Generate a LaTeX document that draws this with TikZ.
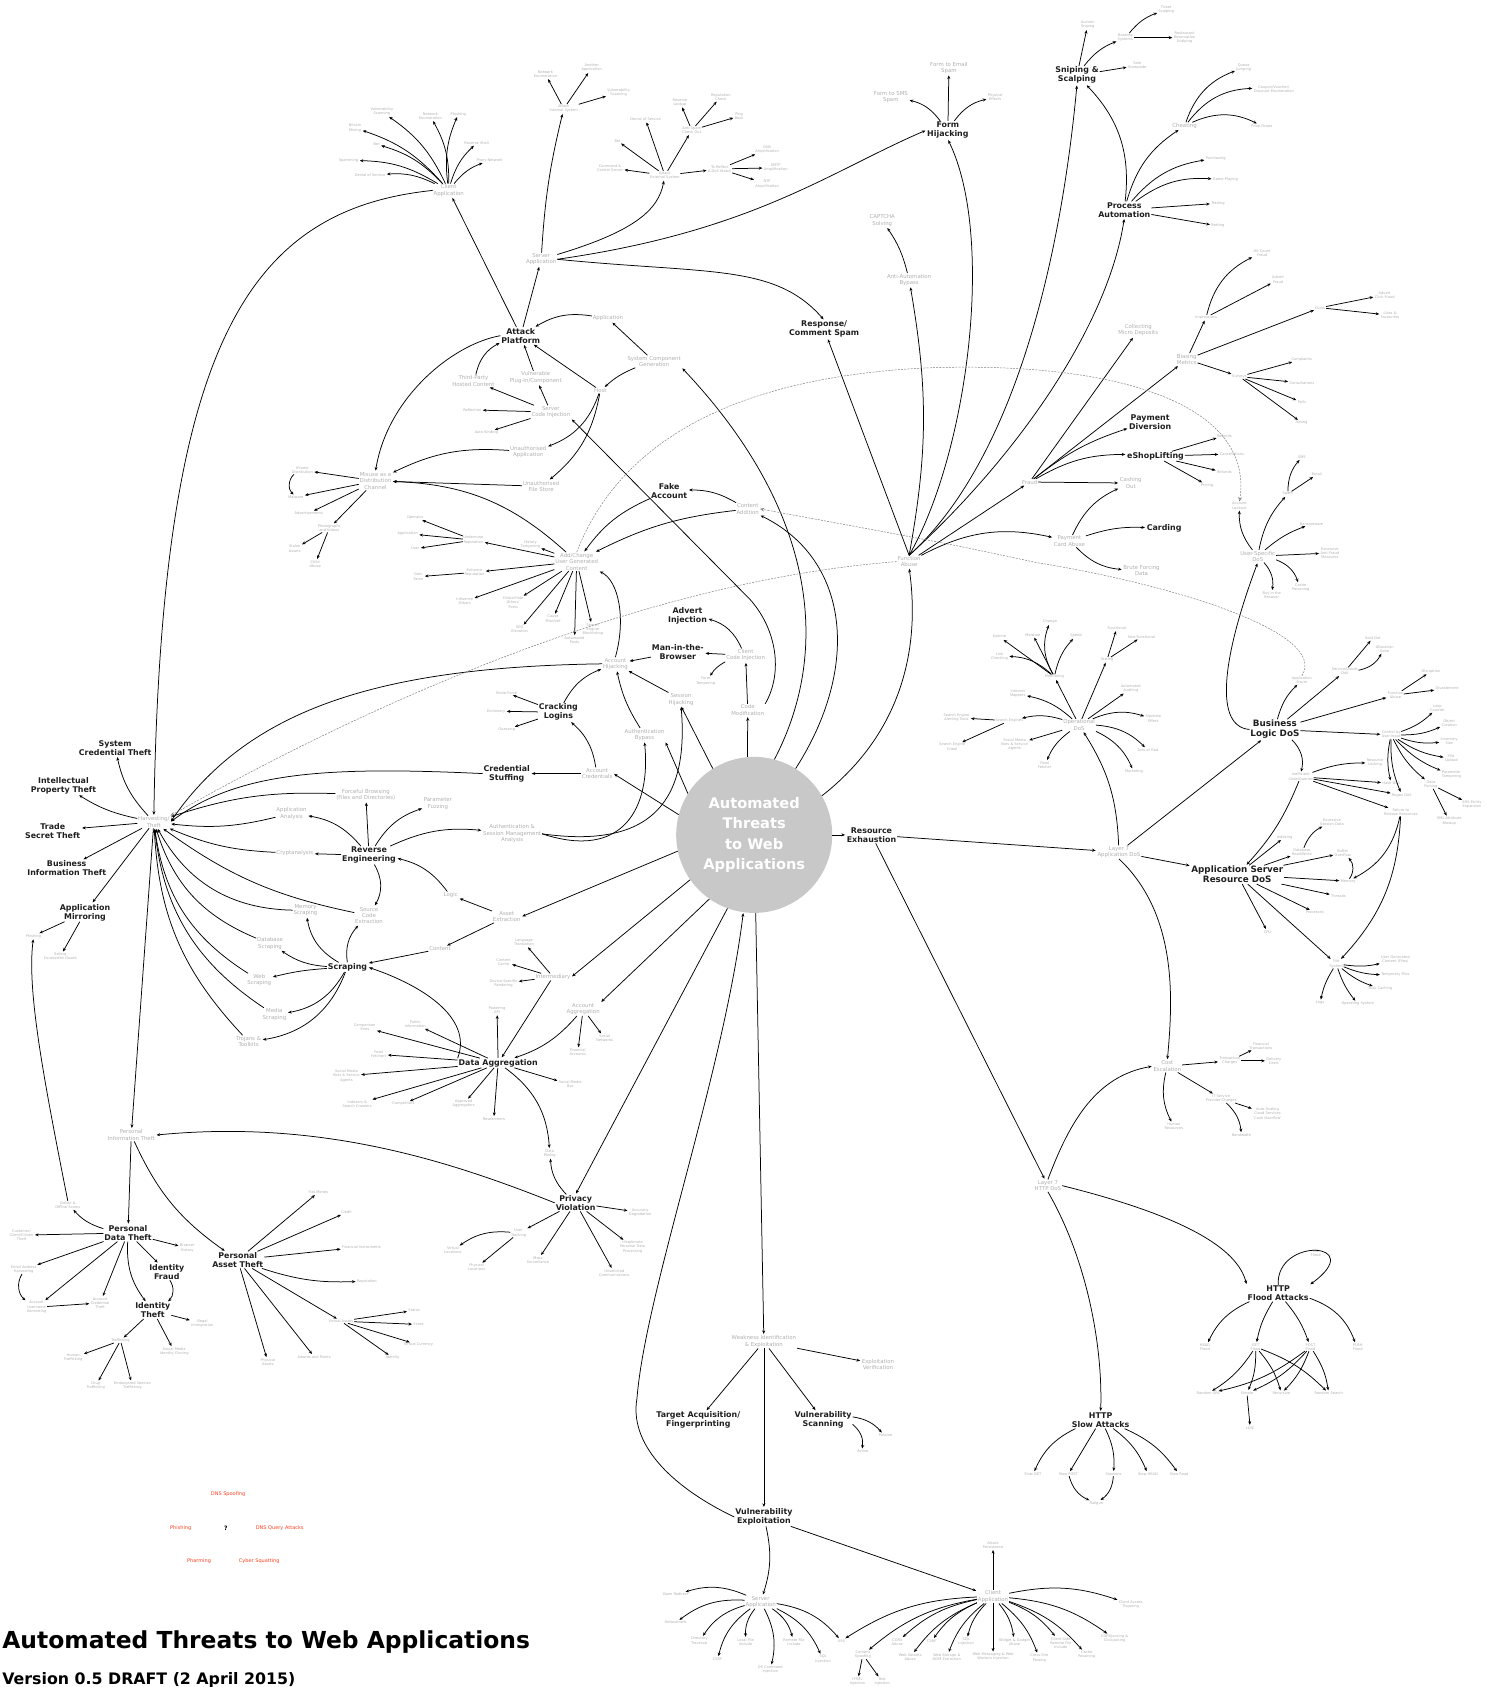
\documentclass[tikz,border=0pt]{standalone}
\usepackage{fontspec}
\setmainfont{DejaVu Sans}
\usetikzlibrary{arrows.meta}
\definecolor{lgray}{RGB}{175,175,175}
\definecolor{hubgray}{RGB}{200,200,200}
\definecolor{tagred}{RGB}{255,64,32}
\tikzset{
  leafnode/.style={text=lgray,font=\fontsize{3.6}{4.2}\selectfont,align=center,inner sep=0.5pt},
  midnode/.style={text=lgray,font=\fontsize{5.4}{6.4}\selectfont,align=center,inner sep=0.8pt},
  threatnode/.style={text=black!88,font=\bfseries\fontsize{7.9}{9}\selectfont,align=center,inner sep=0.8pt},
  majornode/.style={threatnode,font=\bfseries\fontsize{8.8}{10}\selectfont},
  hubnode/.style={circle,fill=hubgray,text=white,font=\bfseries\fontsize{14.6}{20.5}\selectfont,align=center,minimum size=156pt,inner sep=0pt},
  redtag/.style={text=tagred,font=\fontsize{5}{6}\selectfont,inner sep=0.5pt},
  link/.style={-{Stealth[length=3.6pt,width=3pt]},line width=0.75pt,shorten >=0.8pt},
  dashlink/.style={-{Stealth[length=4.4pt,width=3.8pt,open]},draw=gray,dash pattern=on 2pt off 1.2pt,line width=0.5pt}
}
\begin{document}
\begin{tikzpicture}[x=1.0756pt,y=-1.0756pt]
\useasboundingbox (0,0) rectangle (1388,1568);

\node[hubnode] (core) at (701,776) {Automated\\Threats\\to Web\\Applications};
\node[anchor=west,font=\bfseries\fontsize{23.4}{27}\selectfont,inner sep=0pt] (title) at (2,1526) {Automated Threats to Web Applications};
\node[anchor=west,font=\bfseries\fontsize{15.8}{18}\selectfont,inner sep=0pt] (version) at (2,1562) {Version 0.5 DRAFT (2 April 2015)};

\node[midnode] (ca) at (417,177) {Client\\Application};
\node[leafnode] (caVuln) at (355,104) {Vulnerability\\Scanning};
\node[leafnode] (caNet) at (400,108) {Network\\Enumeration};
\node[leafnode] (caPhish) at (426,106) {Phishing};
\node[leafnode] (caBtc) at (330,119) {Bitcoin\\Mining};
\node[leafnode] (caBot) at (350,134) {Bot};
\node[leafnode] (caShell) at (443,133) {Reverse Shell};
\node[leafnode] (caSpam) at (324,149) {Spamming};
\node[leafnode] (caProxy) at (455,149) {Proxy Network};
\node[leafnode] (caDos) at (344,163) {Denial of Service};

\node[midnode] (sa) at (503,241) {Server\\Application};
\node[leafnode] (ais) at (524,101) {Attack\\Internal System};
\node[leafnode] (aisNet) at (507,69) {Network\\Enumeration};
\node[leafnode] (aisApp) at (550,63) {Another\\Application};
\node[leafnode] (aisVuln) at (575,86) {Vulnerability\\Scanning};
\node[leafnode] (aes) at (618,163) {Attack\\External System};
\node[leafnode] (aesDos) at (600,111) {Denial of Service};
\node[leafnode] (aesBot) at (574,131) {Bot};
\node[leafnode] (aesCc) at (567,156) {Command \&\\Control Server};
\node[leafnode] (spam) at (643,121) {Anti-Spam\\Check Out};
\node[leafnode] (spamRev) at (632,95) {Reverse\\Lookup};
\node[leafnode] (spamRep) at (670,90) {Reputation\\Check};
\node[leafnode] (spamPing) at (687,108) {Ping\\Back};
\node[leafnode] (refl) at (669,157) {To Reflect\\A DoS Attack};
\node[leafnode] (reflDns) at (713,139) {DNS\\Amplification};
\node[leafnode] (reflSmtp) at (721,156) {SMTP\\Amplification};
\node[leafnode] (reflNtp) at (713,171) {NTP\\Amplification};

\node[threatnode] (ap) at (484,312) {Attack\\Platform};
\node[midnode] (apApp) at (565,296) {Application};
\node[midnode] (scg) at (608,336) {System Component\\Generation};
\node[midnode] (host) at (558,363) {Host};
\node[midnode] (tphc) at (440,354) {Third-Party\\Hosted Content};
\node[midnode] (vpc) at (498,351) {Vulnerable\\Plug-In/Component};
\node[midnode] (sci) at (512,383) {Server\\Code Injection};
\node[leafnode] (refn) at (439,381) {Reflection};
\node[leafnode] (abind) at (452,402) {Auto Binding};
\node[midnode] (ua) at (491,420) {Unauthorised\\Application};
\node[midnode] (ufs) at (503,452) {Unauthorised\\File Store};
\node[midnode] (misuse) at (349,447) {Misuse as a\\Distribution\\Channel};
\node[leafnode] (mIframe) at (281,437) {IFrame\\Distribution};
\node[leafnode] (mMal) at (275,462) {Malware};
\node[leafnode] (mAdv) at (287,477) {Advertisements};
\node[leafnode] (mPhoto) at (306,491) {Photographs\\and Videos};
\node[leafnode] (mStolen) at (274,510) {Stolen\\Assets};
\node[leafnode] (mChild) at (293,524) {Child\\Abuse};

\node[midnode] (ugc) at (536,522) {Add/Change\\User Generated\\Content};
\node[leafnode] (uRep) at (440,502) {Undermine\\Reputation};
\node[leafnode] (uOp) at (386,481) {Operator};
\node[leafnode] (uApp) at (379,496) {Application};
\node[leafnode] (uUser) at (386,510) {User};
\node[leafnode] (uHist) at (493,506) {History\\Tampering};
\node[leafnode] (uEnh) at (441,532) {Enhance\\Reputation};
\node[leafnode] (uFame) at (389,536) {Gain\\Fame};
\node[leafnode] (uInfl) at (432,559) {Influence\\Others};
\node[leafnode] (uDil) at (477,560) {Dilute/Hide\\Others'\\Posts};
\node[leafnode] (uMis) at (514,575) {Cause\\Mischief};
\node[leafnode] (uSeo) at (483,585) {SEO\\Elevation};
\node[leafnode] (uAuto) at (534,595) {Automated\\Posts};
\node[leafnode] (uSeb) at (551,585) {Search\\Engine\\Blacklisting};
\node[threatnode] (fake) at (622,456) {Fake\\Account};
\node[midnode] (cadd) at (695,473) {Content\\Addition};

\node[midnode] (ah) at (572,617) {Account\\Hijacking};
\node[threatnode] (advinj) at (639,572) {Advert\\Injection};
\node[threatnode] (mitb) at (630,606) {Man-in-the-\\Browser};
\node[midnode] (cci) at (693,609) {Client\\Code Injection};
\node[leafnode] (ftamp) at (656,633) {Form\\Tampering};
\node[midnode] (sh) at (633,650) {Session\\Hijacking};
\node[midnode] (cmod) at (695,660) {Code\\Modification};
\node[threatnode] (crack) at (519,662) {Cracking\\Logins};
\node[leafnode] (cBrute) at (471,644) {Brute-Force};
\node[leafnode] (cDict) at (461,661) {Dictionary};
\node[leafnode] (cGuess) at (471,678) {Guessing};
\node[midnode] (abyp) at (599,683) {Authentication\\Bypass};
\node[threatnode] (cstuff) at (471,719) {Credential\\Stuffing};
\node[midnode] (acred) at (555,719) {Account\\Credentials};

\node[threatnode] (re) at (343,795) {Reverse\\Engineering};
\node[midnode] (rForce) at (340,739) {Forceful Browsing\\(Files and Directories)};
\node[midnode] (rFuzz) at (407,747) {Parameter\\Fuzzing};
\node[midnode] (rAuth) at (476,775) {Authentication \&\\Session Management\\Analysis};
\node[midnode] (rAppAn) at (271,756) {Application\\Analysis};
\node[midnode] (rCrypt) at (274,793) {Cryptanalysis};
\node[midnode] (rSrc) at (343,851) {Source\\Code\\Extraction};
\node[midnode] (logic) at (419,832) {Logic};
\node[midnode] (aext) at (471,852) {Asset\\Extraction};
\node[midnode] (content) at (409,882) {Content};

\node[threatnode] (scr) at (323,899) {Scraping};
\node[midnode] (sMem) at (284,846) {Memory\\Scraping};
\node[midnode] (sDb) at (251,877) {Database\\Scraping};
\node[midnode] (sWeb) at (241,911) {Web\\Scraping};
\node[midnode] (sMedia) at (255,943) {Media\\Scraping};
\node[midnode] (sTroj) at (231,968) {Trojans \&\\Toolkits};

\node[midnode] (inter) at (514,908) {Intermediary};
\node[leafnode] (iLang) at (487,876) {Language\\Translation};
\node[leafnode] (iCache) at (468,894) {Content\\Cache};
\node[leafnode] (iDev) at (468,914) {Device-Specific\\Rendering};
\node[midnode] (aagg) at (542,938) {Account\\Aggregation};
\node[leafnode] (aSoc) at (562,965) {Social\\Networks};
\node[leafnode] (aFin) at (537,978) {Financial\\Accounts};

\node[threatnode] (dagg) at (463,988) {Data Aggregation};
\node[leafnode] (dApi) at (462,939) {Powering\\API};
\node[leafnode] (dPub) at (386,952) {Public\\Information};
\node[leafnode] (dComp) at (339,955) {Comparison\\Sites};
\node[leafnode] (dFeed) at (352,980) {Feed\\Fetchers};
\node[leafnode] (dSmb) at (322,1000) {Social Media\\Bots \& Service\\Agents};
\node[leafnode] (dIdx) at (332,1026) {Indexers \&\\Search Crawlers};
\node[leafnode] (dCompet) at (375,1026) {Competitors};
\node[leafnode] (dAppr) at (431,1026) {Approved\\Aggregators};
\node[leafnode] (dRes) at (459,1040) {Researchers};
\node[leafnode] (dSmbot) at (530,1008) {Social Media\\Bot};
\node[leafnode] (dMine) at (511,1072) {Data\\Mining};

\node[threatnode] (pv) at (535,1118) {Privacy\\Violation};
\node[leafnode] (pAcc) at (595,1127) {Accuracy\\Degradation};
\node[leafnode] (pTrack) at (482,1146) {User\\Tracking};
\node[leafnode] (pVloc) at (421,1162) {Virtual\\Locations};
\node[leafnode] (pPloc) at (443,1178) {Physical\\Locations};
\node[leafnode] (pMass) at (500,1171) {Mass\\Surveillance};
\node[leafnode] (pIll) at (588,1159) {Illegitimate\\Personal Data\\Processing};
\node[leafnode] (pUns) at (571,1183) {Unsolicited\\Communications};

\node[midnode] (harv) at (143,764) {Harvesting/\\Theft};
\node[threatnode] (hSys) at (107,695) {System\\Credential Theft};
\node[threatnode] (hIp) at (59,730) {Intellectual\\Property Theft};
\node[threatnode] (hTrade) at (49,772) {Trade\\Secret Theft};
\node[threatnode] (hBiz) at (62,807) {Business\\Information Theft};
\node[threatnode] (hMirror) at (79,848) {Application\\Mirroring};
\node[leafnode] (hPhish) at (31,870) {Phishing};
\node[leafnode] (hSell) at (56,889) {Selling\\Counterfeit Goods};
\node[midnode] (pit) at (122,1055) {Personal\\Information Theft};

\node[threatnode] (pdt) at (119,1146) {Personal\\Data Theft};
\node[leafnode] (scams) at (63,1120) {Online \&\\Offline Scams};
\node[leafnode] (pCust) at (20,1148) {Customer/\\Client/Citizen\\Theft};
\node[leafnode] (pBrow) at (174,1160) {Browser\\History};
\node[leafnode] (pEmail) at (22,1180) {Email Address\\Harvesting};
\node[threatnode] (idf) at (155,1182) {Identity\\Fraud};
\node[leafnode] (pUser) at (34,1215) {Account\\Username\\Harvesting};
\node[leafnode] (pCred) at (93,1211) {Account\\Credential\\Theft};
\node[threatnode] (idt) at (142,1218) {Identity\\Theft};
\node[leafnode] (iImm) at (188,1230) {Illegal\\Immigration};
\node[leafnode] (traf) at (112,1246) {Trafficking};
\node[leafnode] (iClone) at (162,1256) {Social Media\\Identity Cloning};
\node[leafnode] (tHuman) at (68,1262) {Human\\Trafficking};
\node[leafnode] (tDrug) at (89,1288) {Drug\\Trafficking};
\node[leafnode] (tSpecies) at (123,1288) {Endangered Species\\Trafficking};

\node[threatnode] (pat) at (221,1171) {Personal\\Asset Theft};
\node[leafnode] (aFiat) at (296,1108) {Fiat Money};
\node[leafnode] (aCredit) at (322,1127) {Credit};
\node[leafnode] (aFinI) at (336,1159) {Financial Instruments};
\node[leafnode] (aRep) at (341,1191) {Reputation};
\node[leafnode] (aVirt) at (317,1228) {Virtual Assets};
\node[leafnode] (aAwards) at (292,1261) {Awards and Points};
\node[leafnode] (aPhys) at (249,1266) {Physical\\Assets};
\node[leafnode] (vStatus) at (385,1218) {Status};
\node[leafnode] (vScore) at (389,1231) {Score};
\node[leafnode] (vCurr) at (389,1250) {Virtual Currency};
\node[leafnode] (vId) at (365,1262) {Identity};

\node[redtag] (rDnsS) at (212,1389) {DNS Spoofing};
\node[redtag] (rPhish) at (168,1420) {Phishing};
\node[font=\bfseries\fontsize{6}{7}\selectfont] (rQ) at (210,1420) {?};
\node[redtag] (rDnsQ) at (260,1420) {DNS Query Attacks};
\node[redtag] (rPharm) at (185,1451) {Pharming};
\node[redtag] (rCyber) at (241,1451) {Cyber Squatting};

\node[midnode] (wie) at (710,1247) {Weakness Identification\\\& Exploitation};
\node[midnode] (wVer) at (816,1268) {Exploitation\\Verification};
\node[threatnode] (tacq) at (649,1320) {Target Acquisition/\\Fingerprinting};
\node[threatnode] (vscan) at (765,1320) {Vulnerability\\Scanning};
\node[leafnode] (vPass) at (823,1334) {Passive};
\node[leafnode] (vAct) at (802,1349) {Active};
\node[threatnode] (vexp) at (710,1410) {Vulnerability\\Exploitation};
\node[midnode] (vsa) at (707,1489) {Server\\Application};
\node[midnode] (vca) at (923,1484) {Client\\Application};
\node[leafnode] (cPers) at (923,1436) {Attack\\Persistence};
\node[leafnode] (sOpen) at (628,1482) {Open Redirect};
\node[leafnode] (sDef) at (628,1508) {Defacement};
\node[leafnode] (sDir) at (650,1525) {Directory\\Traversal};
\node[leafnode] (sCsrf) at (667,1542) {CSRF};
\node[leafnode] (sLfi) at (693,1526) {Local File\\Include};
\node[leafnode] (sOs) at (716,1552) {OS Command\\Injection};
\node[leafnode] (sRfi) at (738,1526) {Remote File\\Include};
\node[leafnode] (sSql) at (765,1542) {SQL\\Injection};
\node[leafnode] (xss) at (782,1525) {XSS};
\node[leafnode] (cCors) at (834,1526) {CORS\\Abuse};
\node[leafnode] (cSpoof) at (802,1538) {Content\\Spoofing};
\node[leafnode] (cWs) at (846,1540) {Web Sockets\\Abuse};
\node[leafnode] (cCsrf) at (866,1525) {CSRF};
\node[leafnode] (cStore) at (880,1540) {Web Storage \&\\DOM Extraction};
\node[leafnode] (cSql) at (898,1526) {SQL\\Injection};
\node[leafnode] (cMsg) at (923,1540) {Web Messaging \& Web\\Workers Injection};
\node[leafnode] (cWidget) at (943,1526) {Widget \& Gadget\\Abuse};
\node[leafnode] (cPost) at (966,1541) {Cross-Site\\Posting};
\node[leafnode] (cRfi) at (986,1527) {Client-Side\\Remote File\\Include};
\node[leafnode] (cCache) at (1010,1538) {Cache\\Poisoning};
\node[leafnode] (cJack) at (1036,1523) {CORSJacking \&\\Clickjacking};
\node[leafnode] (cTroj) at (1051,1491) {Client Access\\Trojaning};
\node[leafnode] (cHtml) at (797,1563) {HTML\\Injection};
\node[leafnode] (cText) at (820,1563) {Text\\Injection};

\node[threatnode] (rex) at (810,776) {Resource\\Exhaustion};
\node[midnode] (l7app) at (1040,792) {Layer 7\\Application DoS};
\node[midnode] (l7http) at (974,1102) {Layer 7\\HTTP DoS};

\node[midnode] (fa) at (845,522) {Function\\Abuse};
\node[threatnode] (rspam) at (766,306) {Response/\\Comment Spam};
\node[midnode] (aab) at (845,260) {Anti-Automation\\Bypass};
\node[midnode] (captcha) at (820,205) {CAPTCHA\\Solving};
\node[threatnode] (fh) at (881,121) {Form\\Hijacking};
\node[midnode] (fhEmail) at (882,63) {Form to Email\\Spam};
\node[midnode] (fhSms) at (828,90) {Form to SMS\\Spam};
\node[leafnode] (fhPhys) at (925,90) {Physical\\Effects};
\node[threatnode] (snipe) at (1001,70) {Sniping \&\\Scalping};
\node[leafnode] (sAuct) at (1011,23) {Auction\\Sniping};
\node[leafnode] (sBook) at (1046,35) {Booking\\Systems};
\node[leafnode] (sTicket) at (1084,9) {Ticket\\Scalping};
\node[leafnode] (sRest) at (1101,35) {Restaurant\\Reservation\\Scalping};
\node[leafnode] (sSale) at (1057,61) {Sale\\Stampede};
\node[threatnode] (pa) at (1045,195) {Process\\Automation};
\node[midnode] (cheat) at (1101,117) {Cheating};
\node[leafnode] (chQueue) at (1156,63) {Queue\\Jumping};
\node[leafnode] (chCoup) at (1184,83) {Coupon/Voucher/\\Discount Enumeration};
\node[leafnode] (chPrize) at (1173,117) {Prize Draws};
\node[leafnode] (paPurch) at (1130,147) {Purchasing};
\node[leafnode] (paGame) at (1139,167) {Game Playing};
\node[leafnode] (paTrade) at (1132,189) {Trading};
\node[leafnode] (paBet) at (1132,210) {Betting};
\node[midnode] (fraud) at (957,448) {Fraud};
\node[midnode] (micro) at (1058,307) {Collecting\\Micro Deposits};
\node[midnode] (bias) at (1103,334) {Biasing\\Metrics};
\node[leafnode] (impr) at (1121,295) {Impressions};
\node[leafnode] (bHit) at (1173,235) {Hit Count\\Fraud};
\node[leafnode] (bAdv) at (1188,260) {Advert\\Fraud};
\node[leafnode] (clicks) at (1227,286) {Clicks};
\node[leafnode] (bClick) at (1287,274) {Advert\\Click Fraud};
\node[leafnode] (bLikes) at (1292,293) {Likes \&\\Favourites};
\node[leafnode] (surveys) at (1152,350) {Surveys};
\node[leafnode] (bCompl) at (1210,334) {Complaints};
\node[leafnode] (bCons) at (1210,356) {Consultations};
\node[leafnode] (bPolls) at (1210,374) {Polls};
\node[leafnode] (bVote) at (1210,393) {Voting};
\node[threatnode] (pdiv) at (1069,392) {Payment\\Diversion};
\node[threatnode] (esl) at (1074,424) {eShopLifting};
\node[leafnode] (eRef1) at (1138,405) {Refunds};
\node[leafnode] (eCanc) at (1145,422) {Cancellations};
\node[leafnode] (eRef2) at (1138,439) {Refunds};
\node[leafnode] (ePric) at (1122,451) {Pricing};
\node[midnode] (cash) at (1051,449) {Cashing\\Out};
\node[midnode] (pca) at (994,503) {Payment\\Card Abuse};
\node[threatnode] (carding) at (1082,491) {Carding};
\node[midnode] (bfd) at (1061,530) {Brute Forcing\\Data};
\node[midnode] (usd) at (1169,517) {User-Specific\\DoS};
\node[leafnode] (lock) at (1152,470) {Account\\Lockout};
\node[leafnode] (uSpam) at (1197,459) {Spam};
\node[leafnode] (uSms) at (1210,425) {SMS};
\node[leafnode] (uEmail) at (1224,441) {Email};
\node[leafnode] (uRans) at (1219,487) {Ransomware};
\node[leafnode] (uExc) at (1236,514) {Excessive\\Anti-Fraud\\Measures};
\node[leafnode] (uBuy) at (1182,553) {Buy in the\\Browser};
\node[leafnode] (uCache) at (1209,546) {Cache\\Poisoning};

\node[majornode] (bld) at (1185,678) {Business\\Logic DoS};
\node[leafnode] (bStorm) at (1210,632) {Application\\Storm};
\node[leafnode] (bSvc) at (1250,624) {Service/Goods\\DoS};
\node[leafnode] (bSold) at (1276,593) {Sold Out};
\node[leafnode] (bAlloc) at (1287,603) {Allocation\\Gone};
\node[leafnode] (bFa) at (1297,646) {Function\\Abuse};
\node[leafnode] (bDisr) at (1330,624) {Disruption};
\node[leafnode] (bDisa) at (1345,640) {Disablement};
\node[leafnode] (cui) at (1293,683) {Control by\\User Input};
\node[leafnode] (cLoop) at (1336,658) {Loop\\Counter};
\node[leafnode] (cObj) at (1347,672) {Object\\Creation};
\node[leafnode] (cInv) at (1347,689) {Inventory\\Size};
\node[leafnode] (cFile) at (1349,705) {File\\Upload};
\node[leafnode] (cParam) at (1349,720) {Parameter\\Tampering};
\node[leafnode] (cParse) at (1330,729) {Data\\Parsing};
\node[leafnode] (cXmlE) at (1368,748) {XML Entity\\Expansion};
\node[leafnode] (cXmlA) at (1347,763) {XML Attribute\\Blowup};
\node[leafnode] (ineff) at (1209,722) {Inefficient\\Code/Queries};
\node[leafnode] (iLock) at (1278,709) {Resource\\Locking};
\node[leafnode] (iHash) at (1293,728) {Hash DoS};
\node[leafnode] (iRegex) at (1303,739) {Regex DoS};
\node[leafnode] (iFail) at (1302,755) {Failure to\\Release Resources};

\node[majornode] (asr) at (1150,813) {Application Server\\Resource DoS};
\node[leafnode] (aIdx) at (1194,778) {Indexing};
\node[leafnode] (aDb) at (1210,792) {Database\\Read/Write};
\node[leafnode] (aSess) at (1238,764) {Excessive\\Session Data};
\node[leafnode] (aBuf) at (1248,793) {Buffer\\Overflow};
\node[leafnode] (aMem) at (1253,819) {Memory};
\node[leafnode] (aThr) at (1244,833) {Threads};
\node[leafnode] (aProc) at (1222,848) {Processes};
\node[leafnode] (aCpu) at (1178,866) {CPU};
\node[leafnode] (fs) at (1242,896) {File\\System};
\node[leafnode] (fUgc) at (1297,892) {User Generated\\Content (Files)};
\node[leafnode] (fTmp) at (1297,906) {Temporary Files};
\node[leafnode] (fDisk) at (1283,919) {Disk Caching};
\node[leafnode] (fLogs) at (1227,932) {Logs};
\node[leafnode] (fOs) at (1262,933) {Operating System};

\node[midnode] (odos) at (1003,674) {Operational\\DoS};
\node[leafnode] (mon) at (980,629) {Monitoring};
\node[leafnode] (oUp) at (929,592) {Uptime};
\node[leafnode] (oMal) at (960,590) {Malware};
\node[leafnode] (oChg) at (976,578) {Change};
\node[leafnode] (oSpd) at (1000,591) {Speed};
\node[leafnode] (oLink) at (929,610) {Link\\Checking};
\node[leafnode] (test) at (1029,613) {Testing};
\node[leafnode] (oFun) at (1038,584) {Functional};
\node[leafnode] (oNon) at (1061,592) {Non-Functional};
\node[leafnode] (oMap) at (946,645) {Internet\\Mappers};
\node[leafnode] (oAud) at (1051,640) {Automated\\Auditing};
\node[leafnode] (seng) at (938,670) {Search Engines};
\node[leafnode] (oAlert) at (889,667) {Search Engine\\Alerting Tools};
\node[leafnode] (oCrawl) at (885,694) {Search Engine\\Crawl};
\node[leafnode] (oSmb) at (943,692) {Social Media\\Bots \& Service\\Agents};
\node[leafnode] (oFeed) at (971,711) {Feed\\Fetcher};
\node[leafnode] (oSlash) at (1072,668) {Slashdot\\Effect};
\node[leafnode] (oGod) at (1067,697) {Acts of God};
\node[leafnode] (oMkt) at (1054,717) {Marketing};

\node[midnode] (cost) at (1085,991) {Cost\\Escalation};
\node[leafnode] (tch) at (1143,986) {Transaction\\Charges};
\node[leafnode] (tFin) at (1172,972) {Financial\\Transactions};
\node[leafnode] (tDel) at (1184,986) {Delivery\\Costs};
\node[leafnode] (itsp) at (1135,1021) {IT Service\\Provider Charges};
\node[leafnode] (tAuto) at (1178,1035) {Auto-Scaling\\Cloud Services\\`Cash Overflow'};
\node[leafnode] (tHr) at (1091,1047) {Human\\Resources};
\node[leafnode] (tBw) at (1154,1055) {Bandwidth};

\node[threatnode] (slow) at (1023,1320) {HTTP\\Slow Attacks};
\node[leafnode] (sGet) at (960,1370) {Slow GET};
\node[leafnode] (sPost) at (993,1370) {Slow POST};
\node[leafnode] (sLoris) at (1035,1370) {Slowloris};
\node[leafnode] (sHead) at (1067,1370) {Slow HEAD};
\node[leafnode] (sRead) at (1096,1370) {Slow Read};
\node[leafnode] (sRudy) at (1019,1397) {Railgun};
\node[threatnode] (flood) at (1188,1202) {HTTP\\Flood Attacks};
\node[leafnode] (fSsl) at (1223,1165) {SSL\\Flood};
\node[leafnode] (fHead) at (1120,1252) {HEAD\\Flood};
\node[leafnode] (fGet) at (1167,1252) {GET\\Flood};
\node[leafnode] (fPost) at (1218,1252) {POST\\Flood};
\node[leafnode] (fPush) at (1262,1252) {PUSH\\Flood};
\node[leafnode] (fRurl) at (1123,1295) {Random URL};
\node[leafnode] (fSimple) at (1159,1295) {Simple};
\node[leafnode] (fRec) at (1191,1295) {Recursive};
\node[leafnode] (fRsearch) at (1235,1295) {Random Search};
\node[leafnode] (fLoic) at (1162,1327) {LOIC};

\foreach \t in {caVuln,caNet,caBtc,caBot,caSpam,caDos} \draw[link] (ca) to[bend right=15] (\t);
\foreach \t in {caPhish,caShell,caProxy} \draw[link] (ca) to[bend left=15] (\t);
\draw[link] (ca.west) .. controls (230,195) and (150,320) .. (harv.north);
\draw[link] (ap) -- (ca);
\draw[link] (ap) -- (sa);
\draw[link] (sa) to[bend left=5] (ais);
\foreach \t in {aisNet,aisApp,aisVuln} \draw[link] (ais) -- (\t);
\draw[link] (sa) .. controls (590,215) and (612,195) .. (aes);
\foreach \t in {aesCc,aesBot,aesDos,spam,refl} \draw[link] (aes) -- (\t);
\foreach \t in {spamRev,spamRep,spamPing} \draw[link] (spam) -- (\t);
\foreach \t in {reflDns,reflSmtp,reflNtp} \draw[link] (refl) -- (\t);
\draw[link] (sa.east) .. controls (700,215) and (770,160) .. (fh.west);
\draw[link] (sa.east) .. controls (660,255) and (720,245) .. (rspam.north);

\draw[link] (apApp) to[bend right=20] (ap);
\draw[link] (scg) -- (apApp);
\draw[link] (scg) to[bend right=10] (host);
\draw[link] (host) -- (ap);
\draw[link] (tphc) to[bend left=25] (ap);
\draw[link] (vpc) -- (ap);
\foreach \t in {vpc,tphc,refn,abind} \draw[link] (sci) -- (\t);
\draw[link] (host) to[bend left=25] (ua);
\draw[link] (host) to[bend left=20] (ufs);
\draw[link] (ap.west) .. controls (420,320) and (360,370) .. (misuse.north);
\draw[link] (ua) to[bend right=15] (misuse);
\draw[link] (ufs) -- (misuse);
\draw[link] (ugc) to[bend right=20] (misuse);
\foreach \t in {mIframe,mMal,mAdv,mPhoto} \draw[link] (misuse) -- (\t);
\draw[link] (mIframe) to[bend right=50] (mMal);
\foreach \t in {mStolen,mChild} \draw[link] (mPhoto) -- (\t);

\draw[link] (cadd) to[bend right=15] (fake);
\draw[link] (cadd) to[bend right=10] (ugc);
\draw[link] (fake) to[bend right=15] (ugc);
\foreach \t in {uRep,uHist,uEnh,uInfl,uDil,uMis,uSeo,uAuto,uSeb} \draw[link] (ugc) -- (\t);
\foreach \t in {uOp,uApp,uUser} \draw[link] (uRep) -- (\t);
\draw[link] (uEnh) -- (uFame);

\draw[link] (ah.north) .. controls (582,575) and (575,540) .. (ugc.south east);
\draw[link] (ah.west) .. controls (350,620) and (230,660) .. (harv.east);
\draw[link] (mitb) -- (ah);
\draw[link] (cci) -- (mitb);
\draw[link] (cci) to[bend right=25] (advinj);
\draw[link] (cci) to[bend right=15] (ftamp);
\draw[link] (cmod) -- (cci);
\draw[link] (sh) -- (ah);
\draw[link] (abyp) to[bend left=10] (ah);
\foreach \t in {cBrute,cDict,cGuess} \draw[link] (crack) -- (\t);
\draw[link] (crack) to[bend left=20] (ah);
\draw[link] (acred) to[bend right=20] (crack);
\draw[link] (acred) -- (cstuff);
\draw[link] (cstuff.west) .. controls (300,712) and (220,718) .. (harv.east);

\draw[link] (re) -- (rForce);
\draw[link] (re) to[bend left=20] (rFuzz);
\draw[link] (re) to[bend left=15] (rAuth);
\draw[link] (re) to[bend right=20] (rAppAn);
\draw[link] (re) -- (rCrypt);
\draw[link] (re) to[bend left=30] (rSrc);
\draw[link] (logic) to[bend right=20] (re);
\draw[link] (aext) -- (logic);
\draw[link] (aext) -- (content);
\draw[link] (content) -- (scr);
\draw[link] (rAuth.east) .. controls (610,790) and (640,740) .. (sh.south);
\draw[link] (rAuth.east) .. controls (580,800) and (605,750) .. (abyp.south);

\draw[link] (scr) to[bend left=25] (sMem);
\draw[link] (scr) to[bend left=15] (sDb);
\draw[link] (scr) to[bend right=5] (sWeb);
\draw[link] (scr) to[bend left=25] (sMedia);
\draw[link] (scr) to[bend left=30] (sTroj);
\draw[link] (scr) to[bend left=25] (rSrc);
\draw[link] (rForce) to[bend right=10] (harv);
\foreach \s/\b in {rAppAn/10,rCrypt/10,rSrc/12,sMem/30,sDb/25,sWeb/25,sMedia/25,sTroj/20} \draw[link] (\s) to[bend left=\b] (harv);

\foreach \t in {iLang,iCache,iDev} \draw[link] (inter) -- (\t);
\draw[link] (inter) -- (dagg);
\draw[link] (aagg) to[bend left=15] (dagg);
\foreach \t in {aSoc,aFin} \draw[link] (aagg) -- (\t);
\foreach \t in {dApi,dPub,dComp,dFeed,dSmb,dIdx,dCompet,dAppr,dRes,dSmbot} \draw[link] (dagg) -- (\t);
\draw[link] (dagg) to[bend left=25] (dMine);
\draw[link] (dagg.north west) .. controls (440,945) and (390,915) .. (scr.east);

\draw[link] (pv) to[bend left=20] (dMine);
\foreach \t in {pAcc,pTrack,pMass,pIll,pUns} \draw[link] (pv) -- (\t);
\draw[link] (pTrack) to[bend right=20] (pVloc);
\draw[link] (pTrack) -- (pPloc);
\draw[link] (pv.west) .. controls (420,1080) and (300,1040) .. (pit.east);

\draw[link] (harv) to[bend left=15] (hSys);
\draw[link] (harv) to[bend left=10] (hIp);
\foreach \t in {hTrade,hBiz,hMirror,pit} \draw[link] (harv) -- (\t);
\foreach \t in {hPhish,hSell} \draw[link] (hMirror) -- (\t);
\draw[link] (scams.north) .. controls (40,1000) and (25,920) .. (hPhish.south);

\draw[link] (pit) -- (pdt);
\draw[link] (pit) to[bend right=15] (pat);
\draw[link] (pdt) to[bend left=15] (scams);
\foreach \t in {pCust,pEmail,pUser,pCred,idf,pBrow} \draw[link] (pdt) -- (\t);
\draw[link] (pdt) to[bend right=20] (idt);
\draw[link] (pEmail) to[bend right=40] (pUser);
\draw[link] (pUser) -- (pCred);
\draw[link] (idf) to[bend left=40] (idt);
\foreach \t in {traf,iImm,iClone} \draw[link] (idt) -- (\t);
\foreach \t in {tHuman,tDrug,tSpecies} \draw[link] (traf) -- (\t);
\foreach \t in {aFiat,aCredit,aFinI,aVirt,aAwards,aPhys} \draw[link] (pat) -- (\t);
\draw[link] (pat) to[bend right=10] (aRep);
\foreach \t in {vStatus,vScore,vCurr,vId} \draw[link] (aVirt) -- (\t);

\draw[link] (core) -- (wie);
\foreach \t in {tacq,vscan,wVer,vexp} \draw[link] (wie) -- (\t);
\draw[link] (vscan) to[bend left=20] (vPass);
\draw[link] (vscan) to[bend left=30] (vAct);
\draw[link] (vexp.west) .. controls (620,1380) and (585,1340) .. (592,1300) .. controls (600,1200) and (672,1000) .. (core.262);
\draw[link] (vexp) to[bend left=15] (vsa);
\draw[link] (vexp) -- (vca);
\foreach \t in {sOpen,sDef,sDir,sCsrf,sLfi} \draw[link] (vsa) to[bend right=20] (\t);
\foreach \t in {sOs,sRfi,sSql,xss} \draw[link] (vsa) to[bend left=20] (\t);
\foreach \t in {xss,cSpoof,cCors,cWs,cCsrf,cStore,cSql} \draw[link] (vca) to[bend right=15] (\t);
\draw[link] (vca) -- (cMsg);
\draw[link] (vca) -- (cPers);
\foreach \t in {cWidget,cPost,cRfi,cCache,cJack,cTroj} \draw[link] (vca) to[bend left=15] (\t);
\foreach \t in {cHtml,cText} \draw[link] (cSpoof) -- (\t);

\draw[link] (core) -- (rex);
\draw[link] (core.30) .. controls (840,680) and (855,600) .. (fa.south);
\draw[link] (core.58) .. controls (800,620) and (790,520) .. (cadd.south east);
\draw[link] (core.75) .. controls (775,600) and (755,470) .. (scg.south east);
\draw[link] (core.95) -- (cmod.south);
\draw[link] (cmod.north east) .. controls (728,625) and (722,585) .. (697,557) -- (sci.south east);
\draw[link] (core.122) -- (sh.south);
\draw[link] (core.148) -- (abyp.south east);
\draw[link] (core.165) -- (acred.east);
\draw[link] (core.192) -- (aext.east);
\draw[link] (core.215) -- (inter.east);
\draw[link] (core.235) -- (aagg.north east);
\draw[link] (core.250) -- (pv.north);

\draw[link] (fa.north) -- (rspam);
\draw[link] (fa.north) to[bend right=10] (aab);
\draw[link] (aab) to[bend right=10] (captcha);
\draw[link] (fa.north) .. controls (900,420) and (925,220) .. (fh.south);
\draw[link] (fa.north) .. controls (940,430) and (985,250) .. (snipe.south);
\draw[link] (fa.north) .. controls (950,420) and (1030,300) .. (pa.south);
\draw[link] (fa) -- (fraud);
\draw[link] (fa) to[bend left=20] (pca);
\draw[link] (fh) to[bend right=20] (fhSms);
\draw[link] (fh) -- (fhEmail);
\draw[link] (fh) to[bend left=20] (fhPhys);
\draw[link] (pa) to[bend right=25] (snipe);
\draw[link] (snipe) -- (sAuct);
\draw[link] (snipe) to[bend left=15] (sBook);
\draw[link] (snipe) -- (sSale);
\draw[link] (sBook) to[bend left=15] (sTicket);
\draw[link] (sBook) -- (sRest);
\foreach \t in {cheat,paPurch,paGame} \draw[link] (pa) to[bend left=20] (\t);
\foreach \t in {paTrade,paBet} \draw[link] (pa) -- (\t);
\foreach \t in {chQueue,chCoup,chPrize} \draw[link] (cheat) to[bend left=25] (\t);
\foreach \t in {micro,bias,cash} \draw[link] (fraud) -- (\t);
\draw[link] (fraud) to[bend left=10] (pdiv);
\draw[link] (fraud) to[bend left=15] (esl);
\draw[link] (bias) -- (impr);
\draw[link] (bias) -- (clicks);
\draw[link] (bias) -- (surveys);
\draw[link] (impr) to[bend left=25] (bHit);
\draw[link] (impr) -- (bAdv);
\foreach \t in {bClick,bLikes} \draw[link] (clicks) -- (\t);
\foreach \t in {bCompl,bCons,bPolls,bVote} \draw[link] (surveys) -- (\t);
\foreach \t in {eRef1,eCanc,eRef2,ePric} \draw[link] (esl) -- (\t);
\draw[link] (pca) to[bend left=20] (cash);
\draw[link] (pca) to[bend left=10] (carding);
\draw[link] (pca) to[bend right=20] (bfd);
\draw[link] (usd) to[bend left=20] (lock);
\draw[link] (usd) to[bend left=15] (uSpam);
\draw[link] (uSpam) to[bend left=20] (uSms);
\draw[link] (uSpam) -- (uEmail);
\draw[link] (usd) to[bend left=10] (uRans);
\draw[link] (usd) -- (uExc);
\draw[link] (usd) to[bend left=25] (uBuy);
\draw[link] (usd) to[bend left=25] (uCache);

\draw[link] (rex) -- (l7app);
\draw[link] (rex) -- (l7http);
\draw[link] (l7app) -- (bld);
\draw[link] (l7app) -- (asr);
\draw[link] (l7app) to[bend right=15] (odos);
\draw[link] (l7app.south) .. controls (1095,850) and (1090,930) .. (cost.north);
\draw[link] (bld.west) .. controls (1125,675) and (1140,600) .. (usd.south);
\draw[link] (bld) to[bend left=15] (bStorm);
\draw[link] (bld) -- (bSvc);
\draw[link] (bld) -- (bFa);
\draw[link] (bld) -- (cui);
\draw[link] (bld) to[bend left=30] (ineff);
\draw[link] (bSvc) -- (bSold);
\draw[link] (bSvc) to[bend right=25] (bAlloc);
\foreach \t in {bDisr,bDisa} \draw[link] (bFa) -- (\t);
\foreach \t in {cLoop,cObj,cInv,cFile,cParam,cParse,iHash,iRegex} \draw[link] (cui) to[bend right=12] (\t);
\foreach \t in {cXmlE,cXmlA} \draw[link] (cParse) -- (\t);
\draw[link] (ineff) to[bend left=10] (iLock);
\foreach \t in {iHash,iRegex,iFail} \draw[link] (ineff) -- (\t);
\draw[link] (ineff) to[bend left=10] (asr);
\draw[link] (iFail) to[bend left=25] (aMem);
\draw[link] (iFail) to[bend left=20] (fs);
\foreach \t in {aIdx,aDb,aBuf,aMem,aThr,aProc,aCpu,fs} \draw[link] (asr) -- (\t);
\draw[link] (aDb) to[bend left=20] (aSess);
\draw[link] (aMem) to[bend right=40] (aBuf);
\foreach \t in {fUgc,fTmp,fDisk,fOs,fLogs} \draw[link] (fs) to[bend right=10] (\t);

\foreach \t in {mon,test,oAud,oSmb} \draw[link] (odos) -- (\t);
\foreach \t in {oSlash,oGod,oMkt} \draw[link] (odos) to[bend left=20] (\t);
\foreach \t in {oMap,seng,oFeed} \draw[link] (odos) to[bend right=15] (\t);
\draw[link] (mon) -- (oUp);
\draw[link] (mon) to[bend right=20] (oLink);
\draw[link] (mon) -- (oMal);
\draw[link] (mon) to[bend left=25] (oChg);
\draw[link] (mon) to[bend left=15] (oSpd);
\foreach \t in {oFun,oNon} \draw[link] (test) -- (\t);
\foreach \t in {oAlert,oCrawl} \draw[link] (seng) -- (\t);

\draw[link] (l7http.north) .. controls (995,1040) and (1020,1000) .. (cost.west);
\draw[link] (l7http.south) .. controls (1010,1170) and (1025,1250) .. (slow.north);
\draw[link] (l7http.east) .. controls (1100,1130) and (1150,1160) .. (flood.north west);
\draw[link] (cost) -- (tch);
\draw[link] (cost) -- (itsp);
\draw[link] (cost) to[bend right=20] (tHr);
\foreach \t in {tFin,tDel} \draw[link] (tch) -- (\t);
\draw[link] (itsp) -- (tAuto);
\draw[link] (itsp) to[bend left=20] (tBw);
\draw[link] (slow) to[bend right=20] (sGet);
\draw[link] (slow) -- (sPost);
\foreach \t in {sLoris,sHead,sRead} \draw[link] (slow) to[bend left=15] (\t);
\draw[link] (sPost) to[bend right=25] (sRudy);
\draw[link] (sLoris) to[bend left=25] (sRudy);
\draw[link] (flood.north) .. controls +(-2,-45) and +(55,-40) .. (flood.north east);
\draw[link] (flood) to[bend right=20] (fHead);
\draw[link] (flood) to[bend right=10] (fGet);
\draw[link] (flood) to[bend left=10] (fPost);
\draw[link] (flood) to[bend left=25] (fPush);
\foreach \t in {fRurl,fSimple,fRec,fRsearch} \draw[link] (fGet) to[bend left=12] (\t);
\foreach \t in {fRurl,fSimple,fRec,fRsearch} \draw[link] (fPost) to[bend left=12] (\t);
\draw[link] (fSimple) -- (fLoic);

\draw[dashlink] (fa.west) .. controls (600,540) and (350,650) .. (harv.north east);
\draw[dashlink] (ugc.north) .. controls (580,400) and (700,350) .. (860,342) .. controls (1050,335) and (1165,380) .. (lock.north);
\draw[dashlink] (bStorm.north) .. controls (1235,590) and (1100,545) .. (964,523) .. controls (880,505) .. (cadd.east);
\end{tikzpicture}
\end{document}
